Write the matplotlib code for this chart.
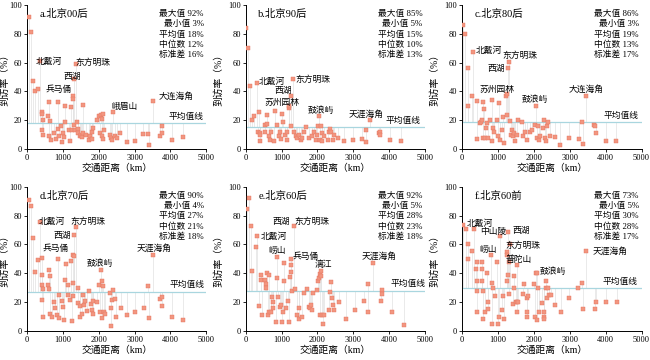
import matplotlib.pyplot as plt

plt.rcParams['font.family'] = ['Liberation Serif', 'Noto Sans CJK SC']
plt.rcParams['axes.unicode_minus'] = False

titles = ['a.北京00后', 'b.北京90后', 'c.北京80后', 'd.北京70后', 'e.北京60后', 'f.北京60前']
stat_names = ['最大值', '最小值', '平均值', '中位数', '标准差']
stats = [[92, 3, 18, 12, 16], [85, 5, 15, 10, 13], [86, 3, 19, 13, 17],
         [90, 4, 27, 21, 18], [92, 5, 28, 23, 18], [73, 5, 30, 28, 17]]
means = [18, 15, 19, 27, 28, 30]

a_dist = [46, 110, 170, 213, 300, 350, 600, 860, 1065, 1220, 1270, 1280, 1315, 1360, 1575, 420, 410, 435,
          425, 445, 585, 650, 610, 740, 805, 675, 860, 900, 955, 1000, 980, 1045, 1065, 1160, 1200, 1250,
          1300, 1340, 1390, 1435, 1415, 1480, 1510, 1530, 1575, 1650, 1715, 1760, 1805, 1835, 1805, 1945,
          2020, 2055, 2085, 2130, 2150, 2040, 2085, 2110, 2315, 2335, 2370, 2390, 2455, 2500, 2595, 2780,
          3010, 3240, 3380, 3390, 3500, 3700, 3750, 3770, 4045, 4340]
a_rate = [91.5, 81, 47, 40, 41.5, 61, 33, 33, 30, 29, 36.5, 35, 48.5, 59, 30.5, 25.6, 24, 20,
          13.5, 10, 23, 19.6, 9, 11, 7, 6.5, 14, 9, 15.7, 11, 4.6, 8.3, 19, 13.4, 5.3, 13.4,
          16.9, 13.4, 19, 14, 11, 9, 10, 8.3, 11, 10, 6.5, 8.8, 11.5, 14.5, 7, 20.3,
          22.6, 23.8, 21, 24.5, 13.4, 11, 8.8, 7, 10, 7.6, 6.5, 25.9, 9, 7.6, 11, 4.6,
          5.5, 10.4, 10.4, 3, 33.7, 9, 11, 15.7, 6.5, 8.3]
a_names = ['北戴河', '东方明珠', '西湖', '兵马俑', '峨眉山', '大连海角', '平均值线']
a_name_x = [600, 1850, 1250, 880, 2730, 4170, 4445]
a_name_y = [61, 60, 50, 41, 29, 36.5, 22.6]

b_dist = [0, 56, 122, 170, 244, 310, 375, 356, 385, 403, 403, 545, 590, 590, 525, 640, 685, 713, 780,
          825, 880, 920, 966, 995, 1030, 1015, 1090, 1155, 1155, 1200, 1220, 1250, 1275, 1313, 1340,
          1390, 1435, 1480, 1530, 1575, 1620, 1690, 1765, 1840, 1900, 1950, 2000, 2025, 2045, 2090,
          2070, 2120, 2140, 2185, 2280, 2310, 2345, 2375, 2420, 2465, 2560, 2750, 2980, 3235, 3360,
          3360, 3470, 3715, 3735, 3750, 4035, 4340]
b_rate = [84, 70, 44, 20, 22.6, 46, 26, 12, 11, 10, 5.3, 17, 17.5, 23.8, 12, 8.8, 6.5, 12, 5.3,
          26.5, 17, 9, 12, 7, 19, 24, 10, 6.5, 12, 28.4, 29.6, 16, 36.5, 48.5, 12,
          8.8, 7.6, 10, 6.5, 8, 12, 15, 7.6, 9, 12, 6.5, 10, 15.7, 22.6, 15.7,
          6.5, 5.3, 11, 8.8, 6.5, 12, 14, 11.5, 6.5, 10, 7.6, 5.3, 6.5, 7, 13.4,
          4.6, 20.3, 11, 12, 10, 6, 5.3]
b_names = ['北戴河', '东方明珠', '西湖', '苏州园林', '鼓浪屿', '天涯海角', '平均值线']
b_name_x = [730, 1860, 1060, 1015, 2090, 3360, 4390]
b_name_y = [47, 48.5, 40.6, 32.3, 26.8, 24, 19.6]

c_dist = [20, 83, 150, 176, 270, 315, 410, 425, 500, 520, 550, 590, 610, 590, 640, 665, 705, 730, 780,
          825, 835, 870, 890, 965, 1010, 1035, 1055, 1100, 1130, 1170, 1222, 1240, 1260, 1287, 1315,
          1335, 1350, 1380, 1407, 1445, 1480, 1537, 1565, 1657, 1700, 1750, 1800, 1890, 1935, 2030,
          2055, 2090, 2120, 2150, 2165, 2240, 2280, 2305, 2330, 2370, 2400, 2460, 2585, 2720, 2980,
          3260, 3350, 3370, 3465, 3665, 3710, 3740, 4020, 4300]
c_rate = [86, 80, 56, 30, 37, 67.2, 33.7, 7, 18, 19, 20, 33, 27.7, 7.6, 8, 14.5, 18, 7.6, 20,
          34.4, 5.3, 14.5, 12, 20, 9, 32.3, 6.5, 13.4, 22, 4, 36.5, 38, 23.8, 56, 60.5,
          19.6, 10, 13.4, 8.8, 11, 5.3, 10, 20, 18.5, 8.8, 11.5, 6.5, 11.5, 13.4, 17,
          29.6, 7.6, 16, 6.5, 8.8, 14.5, 20.3, 7.6, 5.3, 16, 18.5, 8.8, 8.3, 3, 7.6,
          7, 18.5, 3.7, 37, 17, 16, 11, 5.8, 5.3]
c_names = ['北戴河', '东方明珠', '西湖', '苏州园林', '鼓浪屿', '大连海角', '平均值线']
c_name_x = [730, 1610, 960, 960, 2030, 3445, 4435]
c_name_y = [68, 65, 56, 41, 34, 41.5, 23]

d_dist = [46, 110, 170, 213, 300, 350, 420, 420, 420, 445, 410, 445, 585, 600, 630, 610, 630, 695, 740,
          770, 835, 860, 880, 905, 970, 1000, 1020, 1065, 1090, 1130, 1155, 1205, 1220, 1250, 1280,
          1270, 1300, 1280, 1315, 1360, 1410, 1435, 1465, 1480, 1530, 1575, 1600, 1620, 1685, 1715,
          1780, 1835, 1805, 1850, 1945, 2020, 2055, 2085, 2040, 2085, 2130, 2150, 2175, 2315, 2335,
          2340, 2360, 2390, 2455, 2480, 2610, 2780, 3010, 3260, 3380, 3390, 3500, 3700, 3750, 3770,
          4045, 4340]
d_rate = [90.7, 87, 64.6, 40.6, 49.4, 75.8, 50.6, 38.5, 32, 29, 21.4, 9.8, 32, 29, 37.8, 42.4, 12, 9.8, 20.3,
          16, 11, 50, 25, 9, 20.7, 16.8, 7.5, 35.4, 46.4, 32, 25, 21.4, 48.7, 6.8, 24.5,
          53, 51.7, 33, 66.4, 72, 29.6, 19.6, 17.5, 9.8, 12, 25, 18, 20.7, 13.8, 27.7,
          18.4, 20.7, 14.5, 12, 20.3, 32, 42.4, 34.3, 13.3, 8.6, 30.8, 13.3, 11.4, 26, 16,
          3.5, 21.4, 28.4, 22, 9.8, 15.6, 11, 12.8, 15.6, 30.8, 8.6, 53, 22, 23.3, 17.2,
          9.8, 7.5]
d_names = ['北戴河', '东方明珠', '西湖', '兵马俑', '鼓浪屿', '天涯海角', '平均值线']
d_name_x = [695, 1685, 970, 790, 2040, 3540, 4465]
d_name_y = [75.8, 75.8, 65.7, 57, 46.6, 57, 32]

e_dist = [38, 85, 160, 188, 282, 320, 376, 423, 423, 443, 536, 555, 565, 600, 650, 610, 660, 705, 725,
          752, 770, 846, 865, 884, 912, 960, 978, 1005, 1035, 1070, 1080, 1118, 1165, 1195, 1240,
          1260, 1270, 1260, 1290, 1355, 1380, 1430, 1475, 1495, 1570, 1615, 1710, 1760, 1805, 1825,
          1850, 1870, 1975, 2010, 2040, 2070, 2090, 2105, 2070, 2135, 2145, 2180, 2320, 2340, 2390,
          2415, 2435, 2465, 2600, 2790, 3045, 3290, 3400, 3420, 3545, 3760, 3805, 3805, 4080, 4410]
e_rate = [84.4, 92, 72.7, 41.7, 58, 66.2, 17.5, 38.9, 35.4, 11, 35.4, 32.4, 29.6, 40, 38.9, 11, 12.8, 12.8, 23.8,
          15.6, 20.3, 6.3, 51.5, 36.6, 23.8, 16.8, 18, 6.3, 12.8, 47, 34.7, 15.6, 20.7, 6.3, 37.5,
          45.4, 40.6, 50, 27.7, 72.7, 29, 11, 16, 8, 9.8, 26, 29, 16.3, 15.6, 18,
          14.5, 26, 28.4, 34.3, 36.6, 39.4, 41.3, 37.8, 11, 11, 5, 11, 14.5, 27.3, 33.8,
          22.6, 18, 14.5, 19.8, 8, 14.5, 20.7, 32.4, 12.8, 47, 20.7, 28.4, 25.6, 12.8, 4.4]
e_names = ['西湖', '东方明珠', '北戴河', '崂山', '兵马俑', '漓江', '天涯海角', '平均值线']
e_name_x = [978, 1850, 770, 884, 1665, 2160, 3730, 4510]
e_name_y = [75.8, 75.8, 65.7, 55.7, 51.8, 46, 51.8, 32.4]

f_dist = [20, 100, 150, 176, 270, 333, 390, 407, 407, 407, 425, 546, 546, 546, 590, 590, 640, 705, 715,
          730, 805, 825, 845, 870, 915, 965, 1010, 1037, 1055, 1100, 1150, 1175, 1240, 1260, 1260,
          1270, 1287, 1315, 1335, 1315, 1407, 1445, 1445, 1490, 1520, 1537, 1565, 1537, 1685, 1722,
          1800, 1815, 1815, 1845, 2000, 2028, 2055, 2090, 2090, 2120, 2150, 2213, 2280, 2290, 2290,
          2330, 2350, 2370, 2400, 2425, 2465, 2585, 2750, 2980, 3230, 3350, 3370, 3465, 3695, 3740,
          4020, 4315]
f_rate = [73.4, 70.4, 60, 50, 55.2, 70.9, 42.9, 47.8, 34.7, 27.7, 13.3, 47.8, 42.9, 34.7, 27.7, 7.9, 13.3, 40, 20.3,
          15, 53, 33, 5, 30, 24.5, 47.8, 5, 9.8, 65.7, 14.5, 24.5, 8.2, 54.5, 53, 34.7,
          38.5, 68.5, 47.8, 60, 25.4, 18.4, 38.2, 30, 19.8, 19.8, 13.3, 19.8, 45.4, 25.4, 32.4,
          9.8, 13.3, 23, 24.5, 32.4, 9.8, 39.9, 40, 7.2, 30, 13.3, 19, 13.3, 9.8, 7.9,
          30, 34.7, 23, 30, 25, 25, 18, 13.3, 23, 30, 33, 15, 55.2, 15, 19.8,
          19.8, 19.8]
f_names = ['北戴河', '中山陵', '西湖', '崂山', '东方明珠', '普陀山', '鼓浪屿', '天涯海角', '平均值线']
f_name_x = [500, 870, 1660, 730, 1705, 1565, 2540, 4110, 4390]
f_name_y = [74.4, 68.8, 69.7, 56.4, 59.4, 49.4, 41.3, 55.2, 33.8]

panels = [
    (a_dist, a_rate, a_names, a_name_x, a_name_y),
    (b_dist, b_rate, b_names, b_name_x, b_name_y),
    (c_dist, c_rate, c_names, c_name_x, c_name_y),
    (d_dist, d_rate, d_names, d_name_x, d_name_y),
    (e_dist, e_rate, e_names, e_name_x, e_name_y),
    (f_dist, f_rate, f_names, f_name_x, f_name_y),
]

fig = plt.figure(figsize=(6.5, 3.6), dpi=100)
lefts = [0.0415, 0.378, 0.711]
bottoms = [0.586, 0.081]

for i, (dist, rate, names, nx, ny) in enumerate(panels):
    ax = fig.add_axes([lefts[i % 3], bottoms[i // 3], 0.276, 0.40])
    m = means[i]
    # faint drop lines from each point to the mean line
    ax.vlines(dist, [m] * len(rate), rate, color='#e2e2e2', lw=0.5, zorder=1)
    ax.axhline(m, color='#a9d6df', lw=0.9, zorder=1)
    ax.scatter(dist, rate, marker='s', s=11, color='#f29680', edgecolor='#e4735c',
               linewidths=0.3, zorder=3)
    for name, x, y in zip(names, nx, ny):
        ax.text(x, y, name, fontsize=6.3, ha='center', va='center', zorder=4)

    ax.text(0.07, 0.935, titles[i], transform=ax.transAxes, fontsize=7.5, va='center')
    for k, (sn, v) in enumerate(zip(stat_names, stats[i])):
        ax.text(0.985, 0.94 - k * 0.072, f'{sn} {v}%', transform=ax.transAxes,
                fontsize=6.3, ha='right', va='center')

    ax.set_xlim(0, 5000)
    ax.set_ylim(0, 100)
    ax.set_xticks([0, 1000, 2000, 3000, 4000, 5000])
    ax.set_yticks([0, 20, 40, 60, 80, 100])
    ax.tick_params(labelsize=6, length=2, width=0.6, pad=1.5)
    for s in ['top', 'right']:
        ax.spines[s].set_visible(False)
    for s in ['left', 'bottom']:
        ax.spines[s].set_linewidth(0.7)
    ax.set_xlabel('交通距离（km）', fontsize=7, labelpad=1)
    ax.set_ylabel('到访率（%）', fontsize=7)
    ax.yaxis.set_label_coords(-0.1 if i % 3 == 0 else -0.125, 0.5)

fig.savefig('out.png', dpi=100)
